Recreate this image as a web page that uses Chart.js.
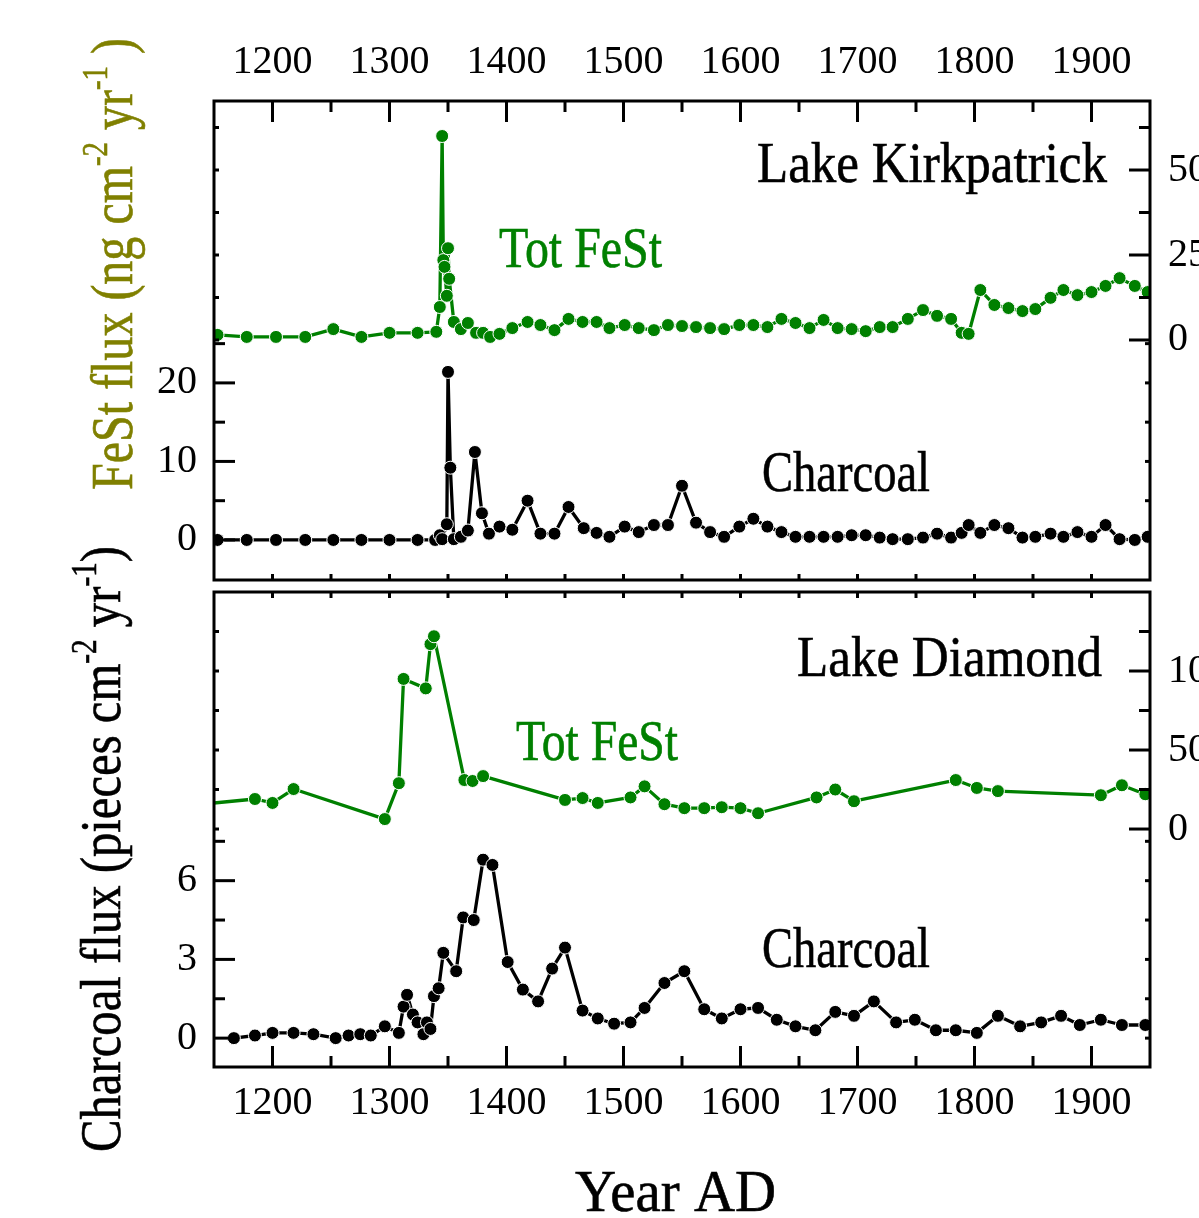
<!DOCTYPE html>
<html>
<head>
<meta charset="utf-8">
<script src="https://cdn.jsdelivr.net/npm/chart.js@4.4.0/dist/chart.umd.min.js"></script>
<style>
  html, body { margin: 0; padding: 0; background: #fff; }
  #wrap { position: relative; width: 1199px; height: 1218px; overflow: hidden; }
  #wrap canvas { position: absolute; left: 0; top: 0; }
</style>
</head>
<body>
<div id="wrap">
  <canvas id="kirk" width="1199" height="1218"></canvas>
  <canvas id="diam" width="1199" height="1218"></canvas>
</div>
<script>
// fesst-charcoal.js — two stacked panels: Tot FeSt flux (right axis) and charcoal flux (left axis)

// ── Lake Kirkpatrick ─────────────────────────
const kirkFestYears = [1153,1178,1203,1228,1252,1276,1300,1324,1340,1343,
  1345,1346,1347,1349,1350,1351,1355,1361,1367,1374,
  1380,1386,1394,1405,1418,1429,1441,1453,1465,1477,
  1488,1501,1513,1526,1538,1550,1562,1574,1586,1599,
  1611,1623,1635,1647,1659,1671,1683,1695,1707,1719,
  1730,1743,1756,1768,1780,1789,1795,1805,1817,1829,
  1841,1852,1865,1876,1888,1900,1912,1924,1937,1948];
const kirkFestFlux = [1.5,0.9,0.9,0.9,3.2,0.9,2.1,2.1,2.4,9.7,
  60,23.5,21.5,13,27,18,5.3,3.2,5,2.1,
  2.1,0.9,1.8,3.5,5.3,4.4,2.9,6.2,5.3,5.3,
  3.5,4.4,3.5,2.9,4.4,4.1,3.8,3.5,3.2,4.4,
  4.4,3.8,6.2,5,3.5,5.9,3.5,3.2,2.6,3.8,
  3.8,6.2,8.8,7.1,6.2,2.1,1.8,14.7,10.3,9.4,
  8.5,9.1,12.4,14.7,13.2,14.1,15.9,18.2,15.9,14.1];

const kirkCharYears = [1153,1178,1203,1228,1252,1276,1300,1324,1339,1343,
  1345,1349,1350,1352,1355,1361,1367,1373,1379,1385,
  1394,1405,1418,1429,1441,1453,1466,1477,1488,1501,
  1513,1526,1538,1550,1562,1574,1586,1599,1611,1623,
  1635,1647,1659,1671,1683,1695,1707,1719,1730,1743,
  1756,1768,1780,1789,1795,1805,1817,1829,1841,1852,
  1865,1876,1888,1900,1912,1924,1937,1948];
const kirkCharFlux = [0,0,0,0,0,0,0,0,0,0.6,
  0.1,2,21.4,9.2,0.1,0.4,1.2,11.2,3.4,0.8,
  1.7,1.3,5,0.8,0.8,4.2,1.5,0.9,0.4,1.7,
  1.0,1.9,1.9,6.9,2.2,1.0,0.4,1.7,2.7,1.7,
  1.0,0.4,0.4,0.4,0.4,0.6,0.6,0.3,0.1,0.1,
  0.3,0.8,0.3,0.9,1.9,0.9,1.9,1.5,0.3,0.4,
  0.8,0.4,1.0,0.4,1.9,0.1,0,0.4];

// ── Lake Diamond ─────────────────────────────
const diamFestYears = [1130,1185,1200,1218,1296,1308,1312,1331,1335,1338,
  1364,1371,1380,1450,1465,1478,1506,1518,1535,1552,
  1569,1584,1600,1615,1665,1681,1697,1784,1802,1820,
  1908,1926,1946];
const diamFestFlux = [15,19,16.5,25.3,6.3,29,95,89,117,122,
  31,30.4,33.5,18.4,19.6,16.5,20,27,15.7,13.2,
  13.2,13.8,13.2,10,20,25,17.6,31,26,24,
  21.4,27.7,22];

const diamCharYears = [1167,1185,1200,1218,1235,1254,1265,1275,1284,1296,
  1308,1312,1315,1320,1324,1329,1332,1335,1338,1342,
  1346,1357,1363,1372,1380,1388,1401,1414,1427,1439,
  1450,1465,1478,1492,1506,1518,1535,1552,1569,1584,
  1600,1615,1631,1647,1664,1681,1697,1714,1733,1749,
  1767,1784,1802,1820,1839,1857,1874,1890,1908,1926,1946];
const diamCharFlux = [0,0.1,0.2,0.2,0.15,0,0.1,0.15,0.1,0.45,
  0.2,1.2,1.65,0.9,0.6,0.15,0.6,0.35,1.6,1.9,
  3.25,2.55,4.6,4.5,6.8,6.6,2.9,1.85,1.4,2.65,
  3.45,1.05,0.75,0.55,0.6,1.15,2.1,2.55,1.1,0.75,
  1.1,1.15,0.7,0.45,0.3,1.0,0.85,1.4,0.6,0.7,
  0.3,0.3,0.2,0.85,0.45,0.6,0.85,0.5,0.7,0.5,0.5];

// ── Tick values ──────────────────────────────
const yearMajor = [1200,1300,1400,1500,1600,1700,1800,1900];
const yearMinor = [1250,1350,1450,1550,1650,1750,1850];
const kirkCharTicks = [0,10,20],   kirkCharMinor = [5,15,25];
const kirkFestTicks = [0,25,50],   kirkFestMinor = [12.5,37.5,62.5];
const diamCharTicks = [0,3,6],     diamCharMinor = [1.5,4.5,7.5];
const diamFestTicks = [0,50,100],  diamFestMinor = [25,75,125];

const GREEN = '#008000';
const OLIVE = '#808000';
const FONT  = '"Liberation Serif", "Times New Roman", serif';

const pts = (xs, ys) => xs.map((x, i) => ({ x, y: ys[i] }));

// text squeezed horizontally to a given width (the figure uses a condensed serif)
function squeezed(ctx, s, x, y, size, width, color) {
  ctx.save();
  ctx.font = `${size}px ${FONT}`;
  const w = ctx.measureText(s).width;
  ctx.translate(x, y);
  ctx.scale(width / w, 1);
  ctx.fillStyle = color;
  ctx.strokeStyle = color;
  ctx.lineWidth = 0.6;
  ctx.textAlign = 'left';
  ctx.textBaseline = 'alphabetic';
  ctx.fillText(s, 0, 0);
  ctx.strokeText(s, 0, 0);
  ctx.restore();
}

// rotated axis title with superscripts, running bottom -> top
function sideTitle(ctx, runs, baseX, startY, endY, size, color) {
  ctx.save();
  let w = 0;
  for (const r of runs) {
    ctx.font = `${r.sup ? size * 0.6 : size}px ${FONT}`;
    w += ctx.measureText(r.t).width;
  }
  ctx.translate(baseX, startY);
  ctx.rotate(-Math.PI / 2);
  ctx.scale((startY - endY) / w, 1);
  ctx.fillStyle = color;
  ctx.strokeStyle = color;
  ctx.lineWidth = 0.6;
  ctx.textAlign = 'left';
  ctx.textBaseline = 'alphabetic';
  let cx = 0;
  for (const r of runs) {
    ctx.font = `${r.sup ? size * 0.6 : size}px ${FONT}`;
    const dy = r.sup ? -size * 0.42 : 0;
    ctx.fillText(r.t, cx, dy);
    ctx.strokeText(r.t, cx, dy);
    cx += ctx.measureText(r.t).width;
  }
  ctx.restore();
}

function panelDeco(cfg) {
  return {
    id: 'panelDeco',
    afterDatasetsDraw(chart) {
      const { ctx, chartArea: a, scales } = chart;
      const sx = scales.x, yc = scales.yc, yf = scales.yf;
      const seg = (x1, y1, x2, y2) => { ctx.beginPath(); ctx.moveTo(x1, y1); ctx.lineTo(x2, y2); ctx.stroke(); };
      ctx.save();
      ctx.strokeStyle = '#000';
      ctx.lineWidth = 3;

      // year ticks: long/short on the labelled spine, small ones on the other
      const onTop = cfg.xSide === 'top';
      const ey = onTop ? a.top : a.bottom, d = onTop ? 1 : -1;
      const oy = onTop ? a.bottom : a.top;
      yearMajor.forEach(v => { const p = sx.getPixelForValue(v); seg(p, ey, p, ey + d * 21); seg(p, oy, p, oy - d * 6); });
      yearMinor.forEach(v => { const p = sx.getPixelForValue(v); seg(p, ey, p, ey + d * 11); seg(p, oy, p, oy - d * 6); });

      // left spine: charcoal ticks, plus small FeSt marks
      cfg.charTicks.forEach(v => { const p = yc.getPixelForValue(v); seg(a.left, p, a.left + 21, p); });
      cfg.charMinor.forEach(v => { const p = yc.getPixelForValue(v); seg(a.left, p, a.left + 11, p); });
      cfg.festTicks.concat(cfg.festMinor).forEach(v => { const p = yf.getPixelForValue(v); seg(a.left, p, a.left + 5, p); });

      // right spine: FeSt ticks, plus small charcoal marks
      cfg.festTicks.forEach(v => { const p = yf.getPixelForValue(v); seg(a.right, p, a.right - 21, p); });
      cfg.festMinor.forEach(v => { const p = yf.getPixelForValue(v); seg(a.right, p, a.right - 11, p); });
      cfg.charTicks.concat(cfg.charMinor).forEach(v => { const p = yc.getPixelForValue(v); seg(a.right, p, a.right - 5, p); });

      ctx.strokeRect(a.left, a.top, a.right - a.left, a.bottom - a.top);

      // tick labels
      ctx.font = `40px ${FONT}`;
      ctx.fillStyle = '#000';
      ctx.textBaseline = 'middle';
      ctx.textAlign = 'center';
      const ly = onTop ? a.top - 39 : a.bottom + 36;
      yearMajor.forEach(v => ctx.fillText(String(v), sx.getPixelForValue(v), ly));
      ctx.textAlign = 'right';
      cfg.charTicks.forEach(v => ctx.fillText(String(v), a.left - 17, yc.getPixelForValue(v)));
      ctx.textAlign = 'left';
      cfg.festTicks.forEach(v => ctx.fillText(String(v), a.right + 18, yf.getPixelForValue(v)));

      // annotations
      cfg.notes.forEach(n => squeezed(ctx, n.t, n.x, n.y, n.size, n.w, n.color));
      if (cfg.extra) cfg.extra(ctx);
      ctx.restore();
    },
  };
}

function makePanel(id, cfg) {
  const common = {
    borderWidth: 3.3,
    borderJoinStyle: 'round',
    pointRadius: 6.5,
    pointHoverRadius: 6.5,
    pointBorderWidth: 1,
    pointBorderColor: '#ffffff',
    tension: 0,
    fill: false,
  };
  return new Chart(document.getElementById(id).getContext('2d'), {
    type: 'line',
    data: {
      datasets: [
        { ...common, label: 'Tot FeSt', data: pts(cfg.festYears, cfg.festFlux), yAxisID: 'yf',
          borderColor: GREEN, backgroundColor: GREEN, pointBackgroundColor: GREEN },
        { ...common, label: 'Charcoal', data: pts(cfg.charYears, cfg.charFlux), yAxisID: 'yc',
          borderColor: '#000', backgroundColor: '#000', pointBackgroundColor: '#000' },
      ],
    },
    options: {
      responsive: false,
      animation: false,
      events: [],
      layout: { padding: cfg.padding },
      plugins: { legend: { display: false }, tooltip: { enabled: false } },
      scales: {
        x:  { type: 'linear', min: 1150, max: 1950, display: false },
        yc: { type: 'linear', position: 'left',  min: cfg.charRange[0], max: cfg.charRange[1], display: false },
        yf: { type: 'linear', position: 'right', min: cfg.festRange[0], max: cfg.festRange[1], display: false },
      },
    },
    plugins: [panelDeco(cfg)],
  });
}

makePanel('kirk', {
  padding: { left: 214, right: 49, top: 101, bottom: 638 },
  festYears: kirkFestYears, festFlux: kirkFestFlux,
  charYears: kirkCharYears, charFlux: kirkCharFlux,
  charRange: [-5.1, 55.9], festRange: [-70.6, 70.3],
  charTicks: kirkCharTicks, charMinor: kirkCharMinor,
  festTicks: kirkFestTicks, festMinor: kirkFestMinor,
  xSide: 'top',
  notes: [
    { t: 'Lake Kirkpatrick', x: 757, y: 182, size: 58, w: 350, color: '#000' },
    { t: 'Tot FeSt',         x: 499, y: 267, size: 56, w: 163, color: GREEN },
    { t: 'Charcoal',         x: 762, y: 491, size: 56, w: 168, color: '#000' },
  ],
  extra: ctx => sideTitle(ctx, [
    { t: 'FeSt flux (ng cm' }, { t: '-2', sup: true }, { t: ' yr' }, { t: '-1', sup: true }, { t: ' )' },
  ], 132, 490, 38, 60, OLIVE),
});

makePanel('diam', {
  padding: { left: 214, right: 49, top: 592, bottom: 151 },
  festYears: diamFestYears, festFlux: diamFestFlux,
  charYears: diamCharYears, charFlux: diamCharFlux,
  charRange: [-1.1, 17.0], festRange: [-150.6, 150],
  charTicks: diamCharTicks, charMinor: diamCharMinor,
  festTicks: diamFestTicks, festMinor: diamFestMinor,
  xSide: 'bottom',
  notes: [
    { t: 'Lake Diamond', x: 797, y: 676, size: 58, w: 305, color: '#000' },
    { t: 'Tot FeSt',     x: 516, y: 760, size: 56, w: 162, color: GREEN },
    { t: 'Charcoal',     x: 762, y: 967, size: 56, w: 168, color: '#000' },
    { t: 'Year AD',      x: 575, y: 1211, size: 60, w: 201, color: '#000' },
  ],
  extra: ctx => sideTitle(ctx, [
    { t: 'Charcoal flux (pieces cm' }, { t: '-2', sup: true }, { t: ' yr' }, { t: '-1', sup: true }, { t: ')' },
  ], 120, 1152, 546, 58, '#000'),
});
</script>
</body>
</html>
